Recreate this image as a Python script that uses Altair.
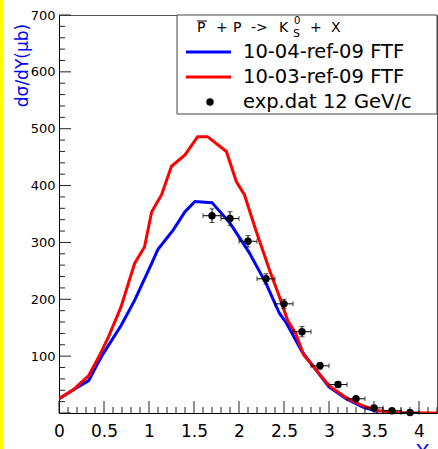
import altair as alt
import pandas as pd

# ---- data ----
blue_x = [0, 0.16, 0.33, 0.44, 0.49, 0.69, 0.84, 1.03, 1.10, 1.27, 1.40, 1.51, 1.70, 1.90, 2.11, 2.30, 2.45, 2.52, 2.70, 3.0, 3.19, 3.37, 3.55]
blue_y = [25, 41, 57, 90, 104, 154, 198, 263, 288, 322, 354, 372, 370, 334, 283, 228, 175, 160, 108, 46, 25, 11, 2]

red_x = [0, 0.16, 0.33, 0.44, 0.55, 0.69, 0.84, 0.95, 1.03, 1.14, 1.25, 1.40, 1.54, 1.65, 1.86, 1.97, 2.06, 2.19, 2.34, 2.45, 2.54, 2.63, 2.72, 3.0, 3.19, 3.37, 3.55, 3.74, 3.9, 4.2]
red_y = [25, 41, 66, 98, 134, 187, 263, 292, 354, 384, 434, 454, 486, 486, 460, 407, 384, 320, 251, 204, 163, 140, 102, 48, 27, 13, 4, 1, 0, 0]

exp_x = [1.7, 1.9, 2.1, 2.3, 2.5, 2.7, 2.9, 3.1, 3.3, 3.5, 3.7, 3.9]
exp_y = [347, 342, 302, 236, 192, 143, 83, 50, 25, 9, 4, 1]
exp_ey = [12, 12, 10, 9, 8, 9, 6, 5, 3, 2, 1, 1]
exp_ex = [0.1] * 12

series_names = ["10-04-ref-09 FTF", "10-03-ref-09 FTF"]
series_colors = ["#0000ff", "#ff0000"]

y_major = list(range(0, 701, 100))
y_minor = [v for v in range(0, 701, 20) if v % 100]
x_major = [i * 0.5 for i in range(9)]
x_minor = [round(i * 0.1, 1) for i in range(43) if i % 5]
y_labels = list(range(100, 701, 100))

FONT = "DejaVu Sans"

curves = pd.concat([
    pd.DataFrame({"x": blue_x, "y": blue_y, "s": series_names[0]}),
    pd.DataFrame({"x": red_x, "y": red_y, "s": series_names[1]}),
])
exp = pd.DataFrame({"x": exp_x, "y": exp_y, "ey": exp_ey, "ex": exp_ex})
exp["xlo"] = exp.x - exp.ex
exp["xhi"] = exp.x + exp.ex
exp["ylo"] = exp.y - exp.ey
exp["yhi"] = exp.y + exp.ey

xs = alt.Scale(domain=[0, 4.2], nice=False, zero=False)
ys = alt.Scale(domain=[0, 700], nice=False, zero=False)

xaxis = alt.Axis(values=x_major, format=".1~f", labelFontSize=17,
                 labelPadding=10, labelFlush=False,
                 title="Y", titleColor="#0000ff", titleFontSize=20,
                 titleX=363, titleY=28, titleBaseline="top", titleAlign="center")
yaxis = alt.Axis(values=y_labels, format="d", labelFontSize=13, labelPadding=4,
                 title="dσ/dY(μb)", titleColor="#0000ff",
                 titleFontSize=17, titleAngle=270,
                 titleX=-37, titleY=50, titleAlign="center", titleBaseline="middle")

lines = alt.Chart(curves).mark_line(strokeWidth=3, clip=True).encode(
    x=alt.X("x:Q", scale=xs, axis=xaxis),
    y=alt.Y("y:Q", scale=ys, axis=yaxis),
    color=alt.Color("s:N", scale=alt.Scale(domain=series_names, range=series_colors), legend=None),
    order="x:Q",
)

X = lambda f: alt.X(f, scale=xs, axis=xaxis)
Y = lambda f: alt.Y(f, scale=ys, axis=yaxis)

base_e = alt.Chart(exp)
xbars = base_e.mark_rule(color="black", strokeWidth=1).encode(x=X("xlo:Q"), x2="xhi:Q", y=Y("y:Q"))
ybars = base_e.mark_rule(color="black", strokeWidth=1).encode(y=Y("ylo:Q"), y2="yhi:Q", x=X("x:Q"))
xcap_lo = base_e.mark_tick(color="black", orient="vertical", size=5, thickness=1).encode(x=X("xlo:Q"), y=Y("y:Q"))
xcap_hi = base_e.mark_tick(color="black", orient="vertical", size=5, thickness=1).encode(x=X("xhi:Q"), y=Y("y:Q"))
ycap_lo = base_e.mark_tick(color="black", orient="horizontal", size=5, thickness=1).encode(x=X("x:Q"), y=Y("ylo:Q"))
ycap_hi = base_e.mark_tick(color="black", orient="horizontal", size=5, thickness=1).encode(x=X("x:Q"), y=Y("yhi:Q"))
dots = base_e.mark_circle(color="black", size=55, opacity=1).encode(x=X("x:Q"), y=Y("y:Q"))

# inward ticks
ytm = alt.Chart(pd.DataFrame({"v": y_major})).mark_rule(color="#222", strokeWidth=1).encode(
    y=Y("v:Q"), x=alt.value(0), x2=alt.value(12))
ytn = alt.Chart(pd.DataFrame({"v": y_minor})).mark_rule(color="#222", strokeWidth=1).encode(
    y=Y("v:Q"), x=alt.value(0), x2=alt.value(6))
xtm = alt.Chart(pd.DataFrame({"v": x_major})).mark_rule(color="#222", strokeWidth=1).encode(
    x=X("v:Q"), y=alt.value(398), y2=alt.value(386))
xtn = alt.Chart(pd.DataFrame({"v": x_minor})).mark_rule(color="#222", strokeWidth=1).encode(
    x=X("v:Q"), y=alt.value(398), y2=alt.value(392))

one = pd.DataFrame({"a": [0]})

yellow = alt.Chart(one).mark_rect(color="#ffff00").encode(
    x=alt.value(-59), x2=alt.value(-55.5), y=alt.value(-15), y2=alt.value(434))

box = alt.Chart(one).mark_rect(fill="white", stroke="#444", strokeWidth=1).encode(
    x=alt.value(118), x2=alt.value(378), y=alt.value(0), y2=alt.value(99))

def txt(s, x, y, size=14, baseline="alphabetic"):
    return alt.Chart(one).mark_text(text=s, font=FONT, fontSize=size, color="black",
                                    align="left", baseline=baseline).encode(
        x=alt.value(x), y=alt.value(y))

header = [
    txt("P", 138, 17), txt("+", 157, 17), txt("P", 174, 17), txt("->", 192, 17),
    txt("K", 220, 17), txt("0", 235, 9, 10), txt("S", 234, 22, 11),
    txt("+", 251, 17), txt("X", 272, 17),
]
overline = alt.Chart(one).mark_rule(color="black", strokeWidth=1).encode(
    x=alt.value(138), x2=alt.value(148), y=alt.value(6))

leg_blue = alt.Chart(one).mark_rule(color="#0000ff", strokeWidth=3).encode(
    x=alt.value(127), x2=alt.value(172), y=alt.value(37))
leg_red = alt.Chart(one).mark_rule(color="#ff0000", strokeWidth=3).encode(
    x=alt.value(127), x2=alt.value(172), y=alt.value(62))
leg_dot = alt.Chart(one).mark_circle(color="black", size=55, opacity=1).encode(
    x=alt.value(151), y=alt.value(87))
leg_texts = [
    txt(series_names[0], 184, 37, 19.5, "middle"),
    txt(series_names[1], 184, 62, 19.5, "middle"),
    txt("exp.dat 12 GeV/c", 184, 87, 19.5, "middle"),
]

chart = alt.layer(
    yellow, lines, xbars, ybars, xcap_lo, xcap_hi, ycap_lo, ycap_hi, dots,
    ytm, ytn, xtm, xtn, box, overline, *header, leg_blue, leg_red, leg_dot, *leg_texts,
).properties(
    width=378, height=398,
    autosize=alt.AutoSizeParams(type="none"),
    padding={"left": 59, "top": 15, "right": 1, "bottom": 36},
    background="white",
).configure_view(stroke="#555", strokeWidth=1).configure_axis(
    labelFont=FONT, labelColor="black", ticks=False, tickSize=0, grid=False,
    labelOverlap=False, labelBound=False, domainColor="black", domainWidth=1,
    titleFont=FONT, titleFontWeight="normal",
)

chart.save("out.html", embed_options={"renderer": "svg", "actions": False})
